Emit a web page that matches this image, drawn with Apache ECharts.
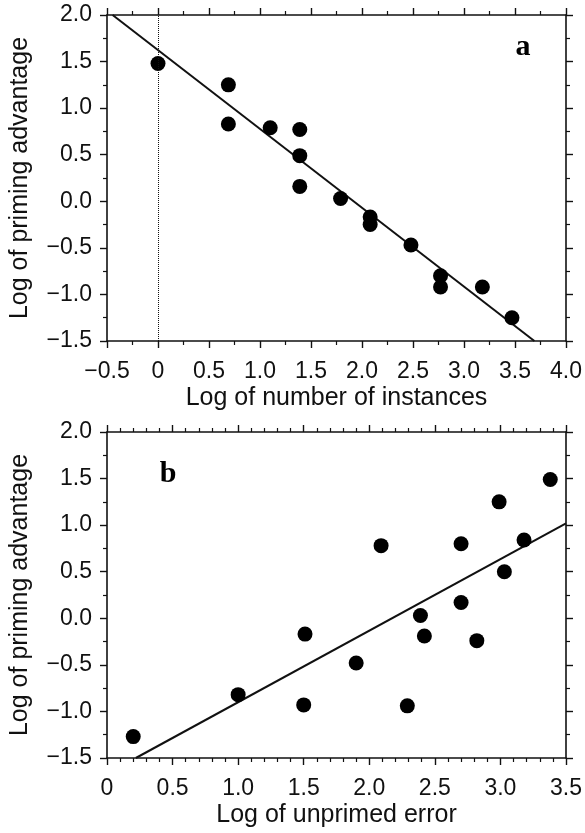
<!DOCTYPE html>
<html>
<head>
<meta charset="utf-8">
<script src="https://cdn.jsdelivr.net/npm/echarts@6/dist/echarts.min.js"></script>
<style>
html,body{margin:0;padding:0;background:#fff;}
#chart{width:585px;height:833px;}
</style>
</head>
<body>
<div id="chart"></div>
<script>
// Panel a: log of number of instances vs log of priming advantage
const instancesX = [0, 0.69, 0.69, 1.10, 1.39, 1.39, 1.39, 1.79, 2.08, 2.08, 2.48, 2.77, 2.77, 3.18, 3.47];
const advantageA = [1.48, 1.25, 0.83, 0.79, 0.77, 0.49, 0.16, 0.03, -0.17, -0.25, -0.47, -0.80, -0.92, -0.92, -1.25];
const fitLineA = [[-0.445, 2.0], [3.69, -1.5]];

// Panel b: log of unprimed error vs log of priming advantage
const unprimedX = [0.20, 1.00, 1.51, 1.50, 1.90, 2.09, 2.29, 2.39, 2.42, 2.70, 2.70, 2.82, 2.99, 3.03, 3.18, 3.38];
const advantageB = [-1.27, -0.82, -0.17, -0.93, -0.48, 0.78, -0.94, 0.03, -0.19, 0.80, 0.17, -0.24, 1.25, 0.50, 0.84, 1.49];
const fitLineB = [[0.22, -1.5], [3.5, 1.02]];

const xTicksA = {min: -0.5, max: 4.0, step: 0.5};
const xTicksB = {min: 0, max: 3.5, step: 0.5};
const yTicks = {min: -1.5, max: 2.0, step: 0.5};

const FONT = '"Liberation Sans", Arial, Helvetica, sans-serif';
const INK = '#111';

function fmt(v, zeroPlain) {
  if (Math.abs(v) < 1e-9) return zeroPlain ? '0' : '0.0';
  const s = Math.abs(v).toFixed(1);
  return v < 0 ? '\u2212' + s : s;
}

function axisBase(t, gridIndex, position, showLabel, minorSplit, labelFmt, name, nameGap) {
  return {
    type: 'value', gridIndex: gridIndex, position: position,
    min: t.min, max: t.max, interval: t.step,
    axisLine: {show: true, onZero: false, lineStyle: {color: INK, width: 1.6}},
    axisTick: {show: true, inside: false, length: 7, lineStyle: {color: INK, width: 1.4}},
    minorTick: {show: true, splitNumber: minorSplit, length: 4, lineStyle: {color: INK, width: 1.2}},
    splitLine: {show: false},
    minorSplitLine: {show: false},
    axisLabel: {show: showLabel, formatter: labelFmt, fontSize: 23, color: INK, fontFamily: FONT,
                margin: (position === 'left') ? 15 : 19},
    name: name || '', nameLocation: 'middle', nameGap: nameGap || 0,
    nameTextStyle: {fontSize: 25, color: INK, fontFamily: FONT}
  };
}

const chart = echarts.init(document.getElementById('chart'), null, {renderer: 'canvas'});

const xFmt = v => fmt(v, true);
const yFmt = v => fmt(v, false);

const option = {
  backgroundColor: '#fff',
  animation: false,
  grid: [
    {left: 105, top: 15, width: 461, height: 326},
    {left: 105, top: 432, width: 461, height: 326}
  ],
  xAxis: [
    axisBase(xTicksA, 0, 'bottom', true, 2, xFmt, 'Log of number of instances', 45),
    axisBase(xTicksA, 0, 'top', false, 2, xFmt),
    axisBase(xTicksB, 1, 'bottom', true, 5, xFmt, 'Log of unprimed error', 45),
    axisBase(xTicksB, 1, 'top', false, 5, xFmt)
  ],
  yAxis: [
    axisBase(yTicks, 0, 'left', true, 2, yFmt, 'Log of priming advantage', 74),
    axisBase(yTicks, 0, 'right', false, 2, yFmt),
    axisBase(yTicks, 1, 'left', true, 2, yFmt, 'Log of priming advantage', 74),
    axisBase(yTicks, 1, 'right', false, 2, yFmt)
  ],
  series: [
    {
      type: 'line', xAxisIndex: 0, yAxisIndex: 0,
      data: fitLineA, showSymbol: false, symbol: 'none', clip: true,
      lineStyle: {color: INK, width: 2}, z: 3,
      markLine: {
        silent: true, symbol: 'none', label: {show: false},
        lineStyle: {color: INK, type: 'dotted', width: 1},
        data: [{xAxis: 0}]
      }
    },
    {
      type: 'scatter', xAxisIndex: 0, yAxisIndex: 0,
      data: instancesX.map((x, i) => [x, advantageA[i]]),
      symbol: 'circle', symbolSize: 15,
      itemStyle: {color: '#000', opacity: 1}, z: 4
    },
    {
      type: 'line', xAxisIndex: 2, yAxisIndex: 2,
      data: fitLineB, showSymbol: false, symbol: 'none', clip: true,
      lineStyle: {color: INK, width: 2}, z: 3
    },
    {
      type: 'scatter', xAxisIndex: 2, yAxisIndex: 2,
      data: unprimedX.map((x, i) => [x, advantageB[i]]),
      symbol: 'circle', symbolSize: 15,
      itemStyle: {color: '#000', opacity: 1}, z: 4
    }
  ],
  graphic: [
    {type: 'text', x: 523, y: 47, style: {text: 'a', fill: '#000', textAlign: 'center', textVerticalAlign: 'middle',
      font: 'bold 30px "Liberation Serif", "Times New Roman", serif'}},
    {type: 'text', x: 168, y: 474, style: {text: 'b', fill: '#000', textAlign: 'center', textVerticalAlign: 'middle',
      font: 'bold 30px "Liberation Serif", "Times New Roman", serif'}}
  ]
};

chart.setOption(option);
</script>
</body>
</html>
